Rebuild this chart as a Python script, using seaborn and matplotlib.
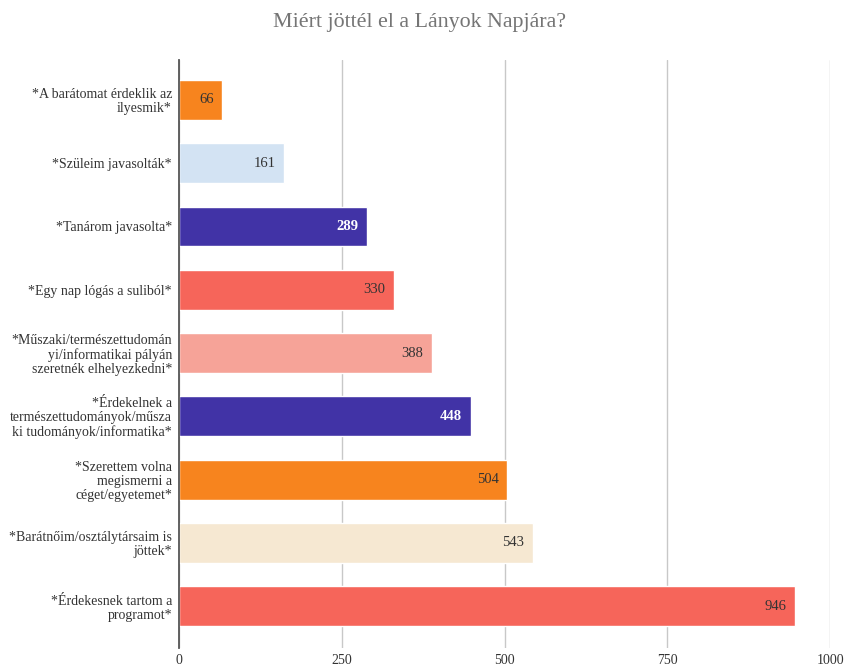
import matplotlib
matplotlib.use('Agg')
import matplotlib.pyplot as plt
import seaborn as sns
import pandas as pd

# adatok a diagramról
categories = [
    '*A barátomat érdeklik az\nilyesmik*',
    '*Szüleim javasolták*',
    '*Tanárom javasolta*',
    '*Egy nap lógás a suliból*',
    '*Műszaki/természettudomán\nyi/informatikai pályán\nszeretnék elhelyezkedni*',
    '*Érdekelnek a\ntermészettudományok/műsza\nki tudományok/informatika*',
    '*Szerettem volna\nmegismerni a\ncéget/egyetemet*',
    '*Barátnőim/osztálytársaim is\njöttek*',
    '*Érdekesnek tartom a\nprogramot*',
]
values = [66, 161, 289, 330, 388, 448, 504, 543, 946]
colors = ['#F7841E', '#D3E3F3', '#4133A6', '#F6655A', '#F6A398',
          '#4133A6', '#F7841E', '#F6E8D2', '#F6655A']
label_colors = ['#333333', '#333333', 'white', '#333333', '#333333',
                'white', '#333333', '#333333', '#333333']
label_weights = ['normal', 'normal', 'bold', 'normal', 'normal',
                 'bold', 'normal', 'normal', 'normal']
xticks = [0, 250, 500, 750, 1000]

df = pd.DataFrame({'ok': categories, 'db': values})

sns.set_style('white')
plt.rcParams['font.family'] = ['Liberation Serif', 'DejaVu Serif']

fig = plt.figure(figsize=(8.47, 6.69), dpi=100)
ax = fig.add_axes([0.2113, 0.0314, 0.7687, 0.8789])

sns.barplot(data=df, y='ok', x='db', hue='ok', palette=colors,
            legend=False, width=0.63, orient='h', ax=ax, saturation=1)

# értékcímkék a sávok végén belül
for patch, v, c, w in zip(ax.patches, values, label_colors, label_weights):
    ax.annotate(str(v), (v, patch.get_y() + patch.get_height() / 2),
                xytext=(-6, 0), textcoords='offset points',
                ha='right', va='center', fontsize=10.5, color=c, fontweight=w)

ax.set_xlim(0, 1000)
ax.set_ylim(8.66, -0.63)
ax.set_xticks(xticks)
ax.set_xticklabels([str(t) for t in xticks])
ax.xaxis.grid(True, color='#c8c8c8', linewidth=1)
ax.set_axisbelow(True)
ax.set_xlabel('')
ax.set_ylabel('')
for s in ['top', 'right', 'bottom']:
    ax.spines[s].set_visible(False)
ax.spines['left'].set_color('#555555')
ax.spines['left'].set_linewidth(1.3)
ax.tick_params(axis='x', length=0, pad=4, labelsize=10, labelcolor='#333333')
ax.tick_params(axis='y', length=0, pad=5, labelsize=10, labelcolor='#333333')
for lbl in ax.get_yticklabels():
    lbl.set_linespacing(1.1)
    lbl.set_horizontalalignment('right')
    lbl.set_multialignment('right')

fig.suptitle('Miért jöttél el a Lányok Napjára?', x=0.495, y=1 - 22 / 669,
             va='center', fontsize=15.8, color='#757575')

fig.savefig('out.png', dpi=100)
